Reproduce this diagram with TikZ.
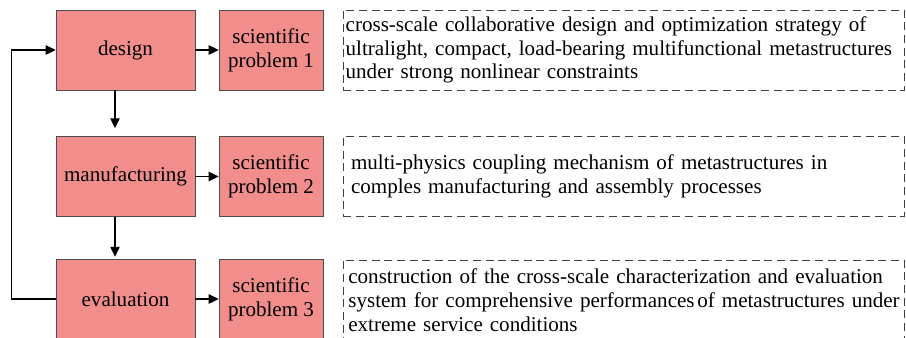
\documentclass[tikz,border=0pt]{standalone}
\usepackage{fontspec}
\setmainfont{Liberation Serif}
\usetikzlibrary{arrows.meta}
\definecolor{boxred}{RGB}{241,141,139}

\begin{document}
\begin{tikzpicture}[x=0.75pt, y=-0.75pt,
	txt/.style={font=\fontsize{15.8pt}{17.8pt}\selectfont},
	stage/.style={txt, draw=black!70, fill=boxred, minimum width=104.25pt, minimum height=60pt, inner sep=0pt},
	problem/.style={txt, draw=black!70, fill=boxred, minimum width=78pt, minimum height=60pt, inner sep=0pt, align=center},
	note/.style={txt, draw=black!75, dash pattern=on 6pt off 3.5pt, minimum height=60pt, text width=418.75pt, inner xsep=1pt, align=left},
	flow/.style={line width=1pt, -{Triangle[length=7.5pt,width=7pt]}}]
			%%%%% START %%%%%
			
			\useasboundingbox (0, 0) rectangle (906, 337);
			\clip (0, 0) rectangle (906, 337);
			
			\node[stage] (design) at (125.5, 50) {design};
			\node[stage] (manuf) at (125.5, 176.5) {manufacturing};
			\node[stage] (eval) at (125.5, 299) {evaluation};
			
			\node[problem] (prob1) at (271, 50) {scientific\\problem 1};
			\node[problem] (prob2) at (271, 176.5) {scientific\\problem 2};
			\node[problem] (prob3) at (271, 299) {scientific\\problem 3};
			
			\node[note] (note1) at (623.5, 50) {\mbox{\hspace*{1pt}cross-scale collaborative design and optimization strategy of}\\\mbox{\hspace*{1pt}ultralight, compact, load-bearing multifunctional metastructures}\\\mbox{\hspace*{1pt}under strong nonlinear constraints}};
			\node[note] (note2) at (623.5, 176.5) {\mbox{\hspace*{5pt}multi-physics coupling mechanism of metastructures in}\\\mbox{\hspace*{5pt}comples manufacturing and assembly processes}};
			\node[note] (note3) at (623.5, 300) {\mbox{\hspace*{3pt}construction of the cross-scale characterization and evaluation}\\\mbox{\hspace*{3pt}system for comprehensive performances\hspace{2pt}of metastructures under}\\\mbox{\hspace*{3pt}extreme service conditions}};
			
			\draw[flow] (design) -- (prob1);
			\draw[flow] (manuf) -- (prob2);
			\draw[flow] (eval) -- (prob3);
			
			\draw[flow] (design.south -| 115, 0) -- ++(0, 38);
			\draw[flow] (manuf.south -| 115, 0) -- ++(0, 40);
			
			\draw[flow] (eval.west) -- ++(-44, 0) |- (design.west);
			
			%%%%% END %%%%%
\end{tikzpicture}
\end{document}
